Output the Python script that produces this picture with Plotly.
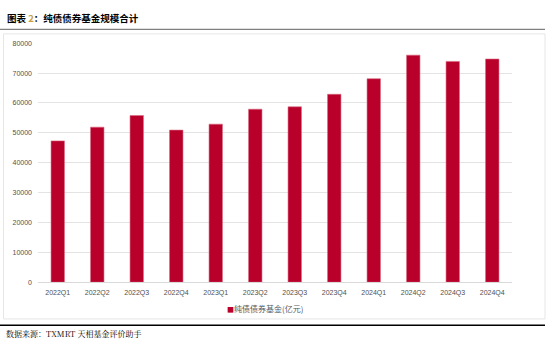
import plotly.graph_objects as go

categories = ["2022Q1", "2022Q2", "2022Q3", "2022Q4", "2023Q1", "2023Q2",
              "2023Q3", "2023Q4", "2024Q1", "2024Q2", "2024Q3", "2024Q4"]
values = [47300, 51900, 55800, 50900, 52900, 57900,
          58700, 62900, 68100, 76000, 73900, 74700]
series_name = "纯债债券基金(亿元)"
y_ticks = [0, 10000, 20000, 30000, 40000, 50000, 60000, 70000, 80000]

W, H = 550, 343
def px(x): return x / W
def py(y): return 1 - y / H

BAR = "#B8002A"

fig = go.Figure()
fig.add_trace(go.Bar(
    x=categories, y=values, name=series_name,
    marker=dict(color=BAR, line=dict(color="#D9687F", width=0.6)),
    showlegend=False,
))

fig.update_layout(
    width=W, height=H,
    margin=dict(l=0, r=0, t=0, b=0),
    paper_bgcolor="white", plot_bgcolor="white",
    bargap=0.66,
    font=dict(family="Liberation Sans, Arial, sans-serif", size=7, color="#595959"),
    xaxis=dict(domain=[px(38), px(512)], showgrid=False, showline=True,
               linecolor="#d9d9d9", linewidth=1, ticks="",
               tickfont=dict(size=7, color="#505050"), anchor="y",
               ticklabelstandoff=3, fixedrange=True),
    yaxis=dict(domain=[py(284), py(40)], range=[0, 80000], tickvals=y_ticks,
               ticktext=[str(v) for v in y_ticks], showgrid=True,
               gridcolor="#e3e3e3", gridwidth=1, zeroline=False, showline=False,
               tickfont=dict(size=7, color="#505050"), ticks="", ticklabelstandoff=5),
)

# legend (custom)
fig.add_annotation(xref="paper", yref="paper", x=px(265), y=py(311), xanchor="center",
                   yanchor="middle", showarrow=False,
                   text=f"<span style='color:{BAR};font-size:7px'>■</span>{series_name}",
                   font=dict(family="Noto Sans CJK SC", size=8, color="#595959"))

# title
fig.add_annotation(xref="paper", yref="paper", x=px(5), y=py(14), xanchor="left",
                   yanchor="middle", showarrow=False,
                   text="<b>图表 <span style='color:#C8A040'>2</span>：纯债债券基金规模合计</b>",
                   font=dict(family="Noto Sans CJK SC", size=9.5, color="#000000"))
# source
fig.add_annotation(xref="paper", yref="paper", x=px(4), y=py(336), xanchor="left",
                   yanchor="middle", showarrow=False,
                   text="数据来源：TXMRT 天相基金评价助手",
                   font=dict(family="Noto Serif CJK SC, Noto Sans CJK SC", size=8, color="#000000"))

shapes = [
    dict(type="line", xref="paper", yref="paper", x0=0, x1=px(545), y0=py(26), y1=py(26),
         line=dict(color="#7f7f7f", width=1.2)),
    dict(type="rect", xref="paper", yref="paper", x0=px(3.5), x1=px(545), y0=py(321.5), y1=py(30.5),
         line=dict(color="#e6e6e6", width=1)),
    dict(type="line", xref="paper", yref="paper", x0=0, x1=px(545), y0=py(328), y1=py(328),
         line=dict(color="#000000", width=1.5)),
]
fig.update_layout(shapes=shapes)

fig.write_html("out.html")
